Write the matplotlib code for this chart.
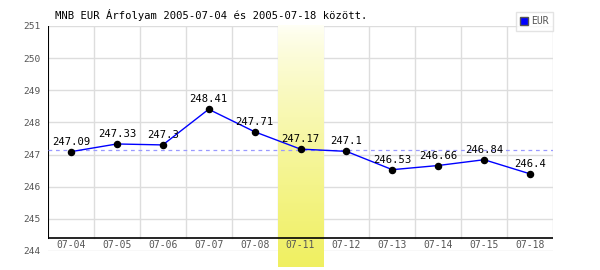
import numpy as np
import matplotlib.pyplot as plt
from matplotlib.lines import Line2D

# EUR rates
dates = ["07-04", "07-05", "07-06", "07-07", "07-08", "07-11",
         "07-12", "07-13", "07-14", "07-15", "07-18"]
rates = [247.09, 247.33, 247.3, 248.41, 247.71, 247.17,
         247.1, 246.53, 246.66, 246.84, 246.4]
label_texts = ["247.09", "247.33", "247.3", "248.41", "247.71", "247.17",
               "247.1", "246.53", "246.66", "246.84", "246.4"]
highlight = "07-11"
y_ticks = [244, 245, 246, 247, 248, 249, 250, 251]

mono = "DejaVu Sans Mono"

fig = plt.figure(figsize=(6, 2.7), dpi=100)
ax = fig.add_axes([48 / 600, 19 / 270, 505 / 600, 225 / 270])

n = len(dates)
x = np.arange(n) + 0.5
ax.set_xlim(0, n)
ax.set_ylim(244, 251)

for s in ax.spines.values():
    s.set_visible(False)

# grid
for yv in y_ticks:
    ax.axhline(yv, color="#dddddd", lw=1, zorder=0)
for xv in range(1, n + 1):
    ax.axvline(xv, ymin=(244.4 - 244) / 7, color="#dddddd", lw=1, zorder=0)

# highlighted day
hi = dates.index(highlight)
grad = np.linspace(0, 1, 100).reshape(-1, 1)
top = np.array([1.0, 1.0, 0.96])
bot = np.array([0.94, 0.94, 0.38])
img = top + (bot - top) * grad[..., None] ** 0.8
ax.imshow(img, extent=[hi, hi + 1, 243.5, 251], aspect="auto",
          origin="upper", zorder=0.5, clip_on=False)

# axis lines
ax.axhline(244.4, color="black", lw=1.2, zorder=1)
ax.axvline(0, ymin=(244.4 - 244) / 7, color="black", lw=1.5, zorder=1)

# mean
mean = np.mean(rates)
ax.axhline(mean, color="#9999ff", lw=0.9, ls=(0, (3, 3)), zorder=1)

ax.plot(x, rates, color="#0000ff", lw=1, zorder=2)
ax.plot(x, rates, "o", color="black", ms=4.4, zorder=3)

for xi, v, t in zip(x, rates, label_texts):
    ax.annotate(t, (xi, v), xytext=(0, 3.5), textcoords="offset points",
                ha="center", va="bottom", fontsize=7.6, family=mono,
                color="black", zorder=4)

for xi, d in zip(x, dates):
    ax.text(xi, 244.2, d, ha="center", va="center", fontsize=7,
            family=mono, color="#555555")

ax.set_xticks([])
ax.set_yticks(y_ticks)
ax.set_yticklabels([str(v) for v in y_ticks], family=mono, fontsize=6.8,
                   color="#555555")
ax.tick_params(axis="y", length=0, pad=5)

fig.text(55 / 600, 1 - 15 / 270, "MNB EUR Árfolyam 2005-07-04 és 2005-07-18 között.",
         ha="left", va="center", fontsize=7.6, family=mono, color="black")

handle = Line2D([], [], marker="s", ls="none", color="#0000ff",
                markeredgecolor="#555555", markersize=5.5)
leg = fig.legend([handle], ["EUR"], loc="upper right",
                 bbox_to_anchor=(553 / 600, 1 - 12 / 270),
                 prop={"family": mono, "size": 7}, frameon=True,
                 fancybox=False, borderpad=0.45, handlelength=0.7,
                 handletextpad=0.35, borderaxespad=0)
leg.get_frame().set_edgecolor("#dddddd")
leg.get_frame().set_linewidth(1)
for t in leg.get_texts():
    t.set_color("#555555")

fig.savefig("out.png", dpi=100)
